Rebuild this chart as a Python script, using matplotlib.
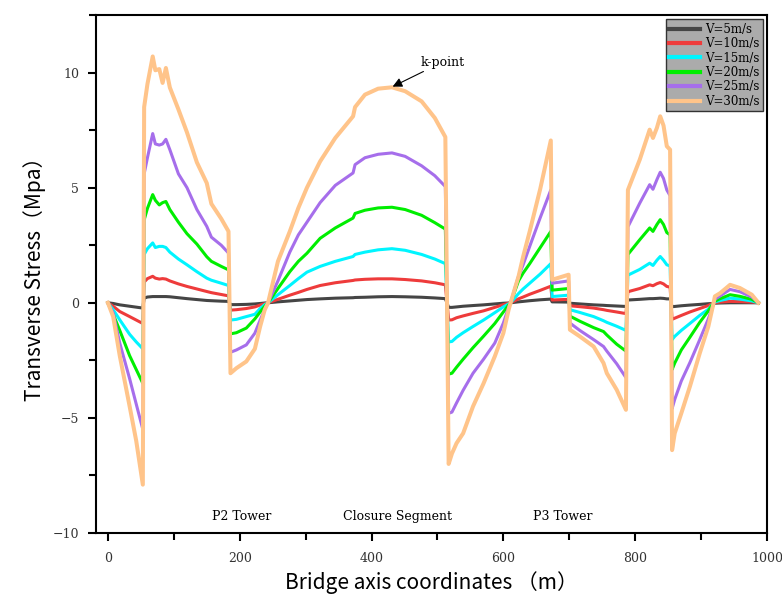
import matplotlib
matplotlib.use("Agg")
import matplotlib.pyplot as plt
from matplotlib.ticker import MultipleLocator

# Bridge axis coordinates (m)
x = [0, 8, 18, 33, 43, 53,
     55, 60, 68, 72, 78, 83, 88, 94, 107, 120, 135, 150, 157, 172, 183,
     186, 195, 210, 223, 231, 238, 243, 258, 276, 289, 302, 322, 345, 372, 375, 390, 410, 431, 451, 476, 496, 512,
     517, 522, 529, 539, 554, 570, 587, 600, 608, 611, 623, 630, 640, 656, 672,
     674, 699,
     701, 716, 737, 752, 757, 772, 786,
     789, 807, 822, 827, 833, 838, 843, 848, 853,
     856, 860, 870, 883, 898, 911, 919, 921, 929, 944, 959, 977, 987]

v5 = [0, -0.03, -0.09, -0.15, -0.19, -0.23,
      0.2, 0.25, 0.27, 0.27, 0.27, 0.27, 0.27, 0.26, 0.22, 0.18, 0.14, 0.1, 0.09, 0.07, 0.06,
      -0.08, -0.08, -0.07, -0.05, -0.03, -0.01, 0, 0.04, 0.08, 0.11, 0.14, 0.17, 0.2, 0.22, 0.23, 0.24, 0.26, 0.27, 0.26, 0.24, 0.21, 0.18,
      -0.2, -0.2, -0.18, -0.15, -0.12, -0.09, -0.05, -0.02, -0.01, 0, 0.04, 0.06, 0.09, 0.13, 0.16,
      0.04, 0.03,
      -0.02, -0.05, -0.09, -0.11, -0.12, -0.14, -0.16,
      0.12, 0.15, 0.18, 0.18, 0.19, 0.2, 0.19, 0.17, 0.17,
      -0.17, -0.16, -0.13, -0.1, -0.07, -0.04, -0.03, -0.02, -0.01, 0, 0, 0, 0]

v10 = [0, -0.15, -0.38, -0.6, -0.75, -0.9,
       0.9, 1.05, 1.15, 1.07, 1.03, 1.05, 1.03, 0.95, 0.82, 0.71, 0.6, 0.49, 0.44, 0.36, 0.3,
       -0.32, -0.3, -0.25, -0.18, -0.1, -0.04, 0, 0.15, 0.33, 0.45, 0.58, 0.75, 0.87, 0.97, 0.99, 1.02, 1.04, 1.04, 1.01, 0.95, 0.87, 0.78,
       -0.75, -0.74, -0.65, -0.57, -0.46, -0.35, -0.2, -0.08, -0.02, 0, 0.17, 0.25, 0.37, 0.54, 0.72,
       0.12, 0.15,
       -0.13, -0.17, -0.23, -0.3, -0.33, -0.4, -0.47,
       0.48, 0.62, 0.78, 0.74, 0.83, 0.88, 0.82, 0.71, 0.68,
       -0.72, -0.67, -0.55, -0.4, -0.25, -0.12, 0, 0.01, 0.03, 0.06, 0.05, 0.03, 0]

v15 = [0, -0.3, -0.74, -1.37, -1.7, -2.0,
       2.1, 2.35, 2.6, 2.4, 2.45, 2.45, 2.4, 2.2, 1.9, 1.65, 1.35, 1.07, 0.98, 0.85, 0.75,
       -0.75, -0.72, -0.6, -0.5, -0.25, -0.08, 0, 0.35, 0.75, 1.05, 1.33, 1.58, 1.8, 2.01, 2.1, 2.2, 2.3, 2.35, 2.28, 2.1, 1.9, 1.7,
       -1.7, -1.68, -1.5, -1.3, -1.03, -0.75, -0.43, -0.18, -0.05, 0, 0.4, 0.6, 0.85, 1.25, 1.7,
       0.27, 0.33,
       -0.3, -0.42, -0.6, -0.78, -0.85, -1.02, -1.2,
       1.2, 1.45, 1.72, 1.62, 1.85, 2.01, 1.85, 1.65, 1.6,
       -1.6, -1.46, -1.2, -0.9, -0.55, -0.28, 0, 0.04, 0.1, 0.2, 0.16, 0.08, 0]

v20 = [0, -0.5, -1.2, -2.3, -2.9, -3.5,
       3.6, 4.1, 4.7, 4.45, 4.25, 4.35, 4.4, 4.05, 3.5, 3.0, 2.55, 2.0, 1.8, 1.58, 1.43,
       -1.35, -1.3, -1.1, -0.7, -0.4, -0.15, 0, 0.62, 1.35, 1.8, 2.15, 2.8, 3.25, 3.68, 3.88, 4.02, 4.12, 4.15, 4.05, 3.8, 3.48, 3.2,
       -3.1, -3.06, -2.8, -2.45, -1.95, -1.45, -0.9, -0.4, -0.1, 0, 0.95, 1.29, 1.7, 2.4, 3.1,
       0.55, 0.62,
       -0.58, -0.8, -1.08, -1.25, -1.4, -1.8, -2.1,
       2.1, 2.74, 3.25, 3.1, 3.4, 3.61, 3.4, 3.05, 2.95,
       -2.9, -2.62, -2.05, -1.5, -0.85, -0.35, 0, 0.07, 0.18, 0.35, 0.28, 0.15, 0]

v25 = [0, -0.45, -1.75, -3.3, -4.4, -5.5,
       5.6, 6.3, 7.35, 6.9, 6.85, 6.9, 7.1, 6.65, 5.6, 5.0, 4.05, 3.32, 2.85, 2.5, 2.16,
       -2.15, -2.05, -1.83, -1.32, -0.75, -0.3, 0, 0.95, 2.2, 2.95, 3.5, 4.35, 5.1, 5.64, 6.0, 6.3, 6.45, 6.51, 6.36, 5.95, 5.52, 5.05,
       -4.8, -4.75, -4.35, -3.8, -3.06, -2.45, -1.75, -0.88, -0.2, 0, 1.15, 1.65, 2.45, 3.7, 4.9,
       0.85, 0.95,
       -0.88, -1.2, -1.6, -1.9, -2.1, -2.65, -3.25,
       3.3, 4.33, 5.13, 4.93, 5.35, 5.67, 5.4, 4.9, 4.65,
       -4.6, -4.2, -3.4, -2.6, -1.6, -0.7, -0.05, 0.15, 0.3, 0.58, 0.48, 0.25, 0]

v30 = [0, -0.6, -2.3, -4.5, -6.0, -7.9,
       8.5, 9.5, 10.7, 10.1, 10.15, 9.55, 10.2, 9.35, 8.4, 7.4, 6.1, 5.2, 4.3, 3.65, 3.1,
       -3.06, -2.84, -2.55, -2.0, -1.03, -0.3, 0, 1.8, 3.1, 4.12, 5.0, 6.14, 7.16, 8.1, 8.5, 9.04, 9.3, 9.36, 9.19, 8.75, 8.03, 7.2,
       -7.0, -6.55, -6.1, -5.67, -4.5, -3.5, -2.33, -1.32, -0.3, 0, 1.14, 2.0, 3.1, 4.95, 7.05,
       1.0, 1.22,
       -1.17, -1.46, -1.9, -2.62, -3.06, -3.78, -4.65,
       4.9, 6.22, 7.52, 7.16, 7.6, 8.1, 7.7, 6.8, 6.65,
       -6.4, -5.67, -4.8, -3.64, -2.19, -1.03, 0, 0.28, 0.42, 0.78, 0.64, 0.35, 0]

labels = ["V=5m/s", "V=10m/s", "V=15m/s", "V=20m/s", "V=25m/s", "V=30m/s"]
series = [v5, v10, v15, v20, v25, v30]
colors = ["#454545", "#EE3B3B", "#00F5FF", "#00EE00", "#A66EEB", "#FFC48A"]
widths = [2.2, 2.2, 2.2, 2.2, 2.2, 2.9]

section_labels = ["P2 Tower", "Closure Segment", "P3 Tower"]
section_x = [203, 440, 690]

serif = ["DejaVu Serif"]
sans = ["Noto Sans CJK SC", "DejaVu Sans"]

fig = plt.figure(figsize=(7.82, 6.03), dpi=100)
ax = fig.add_axes([0.1228, 0.1161, 0.858, 0.8590])

for vals, lab, c, w in zip(series, labels, colors, widths):
    ax.plot(x, vals, color=c, lw=w, label=lab, solid_joinstyle="round")

ax.set_xlim(-18, 1000)
ax.set_ylim(-10, 12.5)
ax.xaxis.set_major_locator(MultipleLocator(200))
ax.xaxis.set_minor_locator(MultipleLocator(100))
ax.yaxis.set_major_locator(MultipleLocator(5))
ax.yaxis.set_minor_locator(MultipleLocator(2.5))
ax.tick_params(which="both", direction="out", width=1.5, colors="black")
ax.tick_params(which="major", length=6, labelsize=9, labelcolor="#333333")
ax.tick_params(which="minor", length=5)
ax.tick_params(axis="x", which="major", pad=8)
ax.tick_params(axis="y", which="major", pad=6)
for lbl in ax.get_xticklabels() + ax.get_yticklabels():
    lbl.set_family(serif)
for sp in ax.spines.values():
    sp.set_linewidth(1.5)

ax.set_xlabel("Bridge axis coordinates （m）", family=sans, fontsize=15, labelpad=4)
ax.set_ylabel("Transverse Stress（Mpa）", family=sans, fontsize=15, labelpad=5)

for t, xx in zip(section_labels, section_x):
    ax.text(xx, -9.3, t, ha="center", va="center", family=serif, fontsize=9)

ax.annotate("k-point", xy=(432, 9.39), xytext=(474, 10.45), ha="left", va="center",
            family=serif, fontsize=9,
            arrowprops=dict(arrowstyle="-|>", color="black", lw=0.8, mutation_scale=14,
                            shrinkA=0, shrinkB=0))

leg = ax.legend(loc="upper right", prop={"family": serif, "size": 8.5}, frameon=True,
                fancybox=False, handlelength=2.6, labelspacing=0.12, borderpad=0.3,
                handletextpad=0.4, borderaxespad=0.35)
leg.get_frame().set_facecolor("#ababab")
leg.get_frame().set_edgecolor("#333333")
leg.get_frame().set_alpha(1)
leg.get_frame().set_linewidth(1.0)
for h in leg.get_lines():
    h.set_linewidth(3.0)

fig.savefig("out.png", dpi=100)
